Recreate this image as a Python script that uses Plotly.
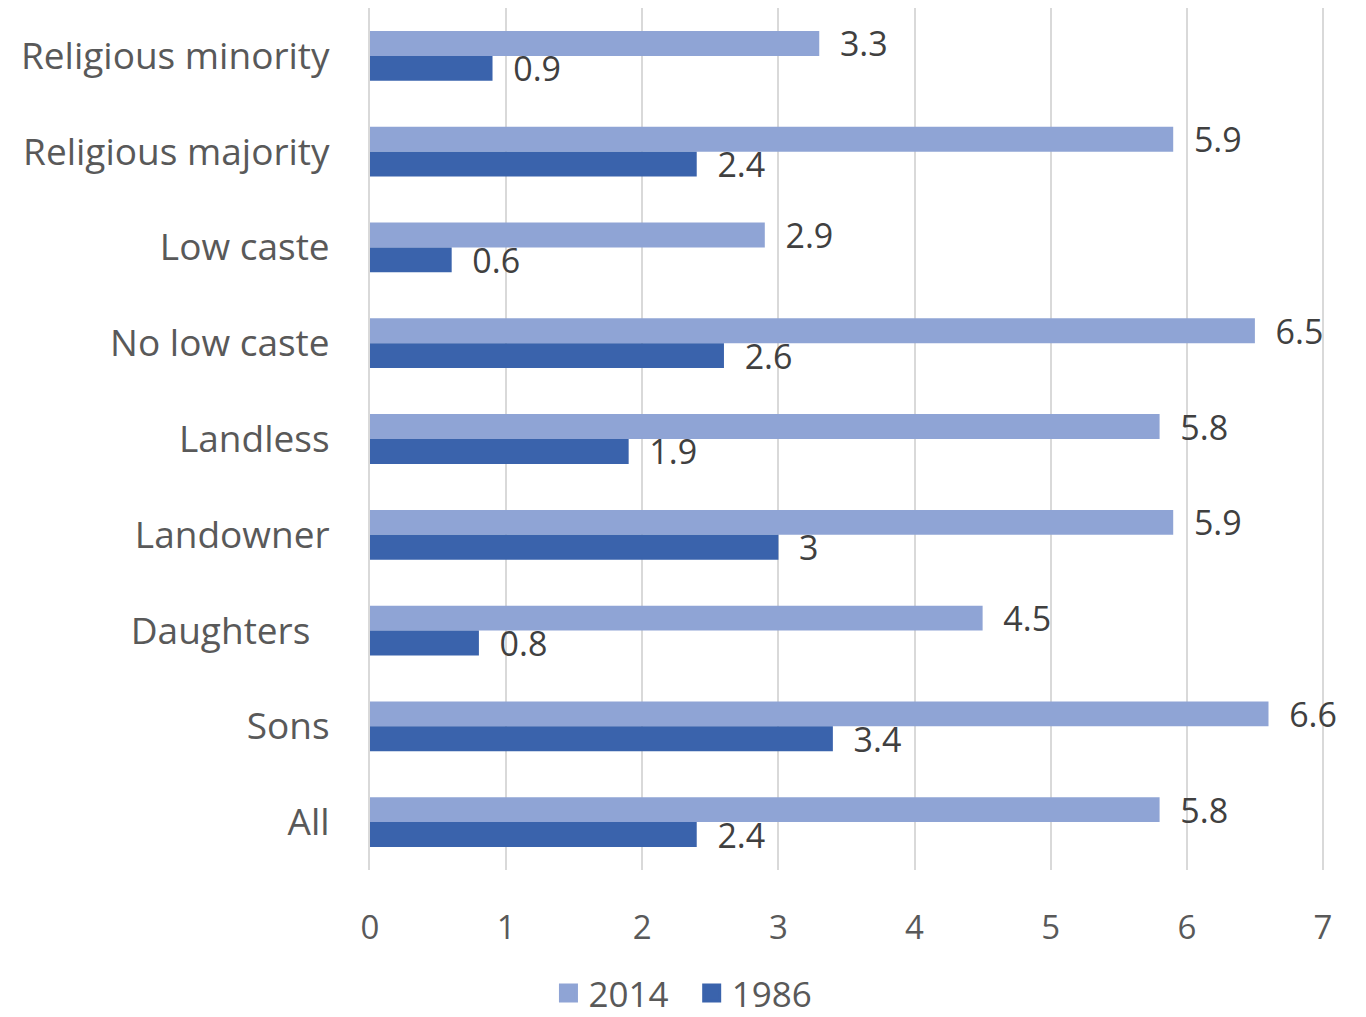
import plotly.graph_objects as go

categories = ["Religious minority", "Religious majority", "Low caste", "No low caste",
              "Landless", "Landowner", "Daughters\u00a0\u00a0", "Sons", "All"]
values_2014 = [3.3, 5.9, 2.9, 6.5, 5.8, 5.9, 4.5, 6.6, 5.8]
values_1986 = [0.9, 2.4, 0.6, 2.6, 1.9, 3.0, 0.8, 3.4, 2.4]
x_ticks = [0, 1, 2, 3, 4, 5, 6, 7]
series_names = ["2014", "1986"]
series_colors = ["#8FA4D5", "#3A63AC"]

font_family = "Open Sans, Liberation Sans, sans-serif"

fig = go.Figure()
for name, vals, color in zip(series_names, [values_2014, values_1986], series_colors):
    fig.add_trace(go.Bar(
        y=categories, x=vals, name=name, orientation="h",
        marker=dict(color=color, line=dict(width=0)),
        text=[f"\u00a0\u00a0{v:g}" for v in vals], textposition="outside",
        textfont=dict(size=34, color="#404040", family=font_family),
        constraintext="none", cliponaxis=False, showlegend=False,
    ))
# legend entries with larger square swatches
for i, (name, color) in enumerate(zip(series_names, series_colors)):
    fig.add_trace(go.Scatter(
        x=[None], y=[None], mode="markers",
        name=name + ("\u00a0\u00a0" if i == 0 else ""),
        marker=dict(symbol="square", size=22, color=color,
                    line=dict(width=3, color=color)),
        showlegend=True,
    ))

fig.update_layout(
    width=1366, height=1017,
    margin=dict(l=370, r=41, t=8, b=147, autoexpand=False),
    barmode="group", bargap=0.48, bargroupgap=0,
    plot_bgcolor="white", paper_bgcolor="white",
    font=dict(family=font_family, size=31, color="#595959"),
    showlegend=True,
    legend=dict(orientation="h", xref="paper", x=0.3277, xanchor="center",
                yref="paper", y=-0.143, yanchor="middle",
                font=dict(size=35, color="#595959"), itemwidth=30,
                traceorder="normal"),
)
fig.update_xaxes(
    range=[0, 7.015], tickvals=x_ticks, ticktext=[str(t) for t in x_ticks],
    showgrid=True, gridcolor="#D9D9D9", gridwidth=2, zeroline=False,
    ticks="outside", ticklen=28, tickcolor="rgba(0,0,0,0)",
    tickfont=dict(size=33, color="#595959"), showline=False,
)
fig.update_yaxes(
    autorange="reversed", categoryorder="array", categoryarray=categories,
    showgrid=False, zeroline=False, showline=True, linecolor="#D9D9D9", linewidth=2,
    ticks="outside", ticklen=31, tickcolor="rgba(0,0,0,0)",
    tickfont=dict(size=37, color="#595959"),
)
fig.write_html("out.html")
